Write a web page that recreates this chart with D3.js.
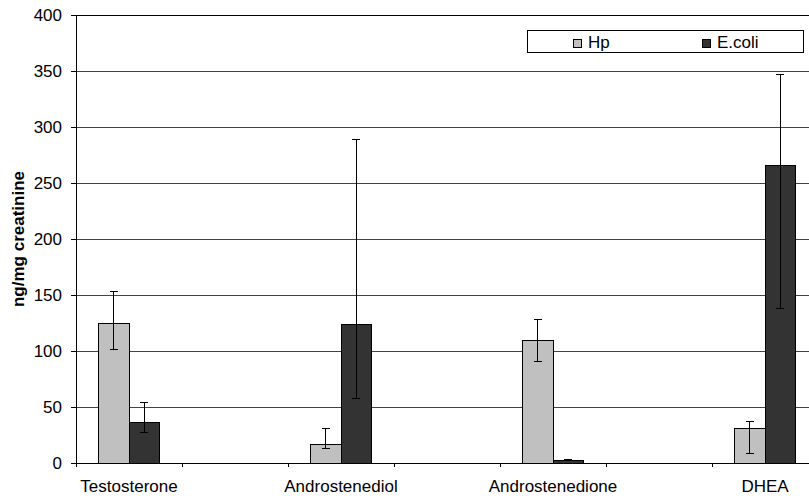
<!DOCTYPE html>
<html>
<head>
<meta charset="utf-8">
<script src="https://cdn.jsdelivr.net/npm/d3@7"></script>
<style>
  html, body { margin: 0; padding: 0; background: #fff; }
  svg { display: block; font-family: "Liberation Sans", Arial, sans-serif; }
</style>
</head>
<body>
<svg id="chart" width="809" height="496"></svg>
<script>
// Category slots along the x axis (blank slots separate the hormones)
const categories = ["Testosterone", "", "Androstenediol", "", "Androstenedione", "", "DHEA"];
const seriesNames = ["Hp", "E.coli"];
const seriesColors = ["#c0c0c0", "#333333"];

// Mean values (ng/mg creatinine) per slot
const hpValues    = [124.5, null, 16.7, null, 109, null, 30.7];
const ecoliValues = [36, null, 123.5, null, 2.5, null, 265.5];

// Error bar lower / upper ends
const hpLow     = [101.5, null, 12.8, null, 90.8, null, 8.4];
const hpHigh    = [153.5, null, 30.4, null, 128, null, 37.5];
const ecoliLow  = [26.8, null, 57.2, null, 2, null, 137.8];
const ecoliHigh = [53.6, null, 289, null, 3, null, 347];

const yTicks = [0, 50, 100, 150, 200, 250, 300, 350, 400];
const yLabel = "ng/mg creatinine";

const svg = d3.select("#chart");
const plotLeft = 76, plotRight = 818, plotTop = 15, plotBottom = 463;
const fontSize = 17;

const x = d3.scaleBand().domain(d3.range(categories.length)).range([plotLeft, plotRight]).padding(0);
const y = d3.scaleLinear().domain([0, 400]).range([plotBottom, plotTop]);

const groupW = x.bandwidth() * 0.575;
const xs = d3.scaleBand().domain(seriesNames).range([-groupW / 2, groupW / 2]).padding(0);

// Horizontal gridlines
svg.append("g")
  .selectAll("line")
  .data(yTicks.filter(d => d > 0))
  .join("line")
  .attr("x1", plotLeft).attr("x2", plotRight)
  .attr("y1", d => y(d)).attr("y2", d => y(d))
  .attr("stroke", "#444").attr("stroke-width", 1)
  .attr("shape-rendering", "crispEdges");

// Bars
const series = [
  { name: "Hp", values: hpValues, low: hpLow, high: hpHigh, color: seriesColors[0] },
  { name: "E.coli", values: ecoliValues, low: ecoliLow, high: ecoliHigh, color: seriesColors[1] }
];

series.forEach(s => {
  const rows = s.values.map((v, i) => ({ i, v, lo: s.low[i], hi: s.high[i] })).filter(d => d.v != null);
  const bx = d => x(d.i) + x.bandwidth() / 2 + xs(s.name);

  svg.append("g")
    .selectAll("rect")
    .data(rows)
    .join("rect")
    .attr("x", d => bx(d))
    .attr("y", d => y(d.v))
    .attr("width", xs.bandwidth())
    .attr("height", d => y(0) - y(d.v))
    .attr("fill", s.color)
    .attr("stroke", "#000")
    .attr("stroke-width", 1)
    .attr("shape-rendering", "crispEdges");

  // Error bars
  const eb = svg.append("g").attr("stroke", "#000").attr("stroke-width", 1).attr("shape-rendering", "crispEdges");
  const mid = d => bx(d) + xs.bandwidth() / 2;
  eb.selectAll("line.v").data(rows).join("line").attr("class", "v")
    .attr("x1", mid).attr("x2", mid)
    .attr("y1", d => y(d.lo)).attr("y2", d => y(d.hi));
  eb.selectAll("line.t").data(rows).join("line").attr("class", "t")
    .attr("x1", d => mid(d) - 4).attr("x2", d => mid(d) + 4)
    .attr("y1", d => y(d.hi)).attr("y2", d => y(d.hi));
  eb.selectAll("line.b").data(rows).join("line").attr("class", "b")
    .attr("x1", d => mid(d) - 4).attr("x2", d => mid(d) + 4)
    .attr("y1", d => y(d.lo)).attr("y2", d => y(d.lo));
});

// Plot frame (top edge)
svg.append("line")
  .attr("x1", plotLeft).attr("x2", plotRight).attr("y1", plotTop).attr("y2", plotTop)
  .attr("stroke", "#000").attr("shape-rendering", "crispEdges");

// Y axis
const yAxis = svg.append("g")
  .attr("transform", `translate(${plotLeft},0)`)
  .call(d3.axisLeft(y).tickValues(yTicks).tickSize(5).tickPadding(9).tickFormat(d3.format("d")));
yAxis.select(".domain").attr("stroke", "#000").attr("shape-rendering", "crispEdges");
yAxis.selectAll(".tick line").attr("stroke", "#000").attr("shape-rendering", "crispEdges");
yAxis.selectAll(".tick text").attr("font-size", fontSize).attr("font-family", "Liberation Sans, Arial, sans-serif").attr("fill", "#000");

// X axis: baseline, boundary ticks, centred labels
const xg = svg.append("g");
xg.append("line")
  .attr("x1", plotLeft).attr("x2", plotRight).attr("y1", y(0)).attr("y2", y(0))
  .attr("stroke", "#000").attr("shape-rendering", "crispEdges");
xg.selectAll("line.tick")
  .data(d3.range(categories.length))
  .join("line").attr("class", "tick")
  .attr("x1", d => x(d)).attr("x2", d => x(d))
  .attr("y1", y(0)).attr("y2", y(0) + 4)
  .attr("stroke", "#000").attr("shape-rendering", "crispEdges");
xg.selectAll("text")
  .data(categories)
  .join("text")
  .attr("x", (d, i) => x(i) + x.bandwidth() / 2)
  .attr("y", 492)
  .attr("text-anchor", "middle")
  .attr("font-size", fontSize)
  .text(d => d);

// Y axis title
svg.append("text")
  .attr("transform", `translate(24,${(plotTop + plotBottom) / 2}) rotate(-90)`)
  .attr("text-anchor", "middle")
  .attr("font-size", fontSize)
  .attr("font-weight", "bold")
  .text(yLabel);

// Legend
const lg = svg.append("g");
lg.append("rect")
  .attr("x", 527).attr("y", 30).attr("width", 276).attr("height", 22)
  .attr("fill", "#fff").attr("stroke", "#000").attr("shape-rendering", "crispEdges");
const legendX = [573, 702];
seriesNames.forEach((name, i) => {
  lg.append("rect")
    .attr("x", legendX[i]).attr("y", 39).attr("width", 8).attr("height", 8)
    .attr("fill", seriesColors[i]).attr("stroke", "#000").attr("shape-rendering", "crispEdges");
  lg.append("text")
    .attr("x", legendX[i] + 15).attr("y", 47.5)
    .attr("font-size", fontSize)
    .text(name);
});
</script>
</body>
</html>
